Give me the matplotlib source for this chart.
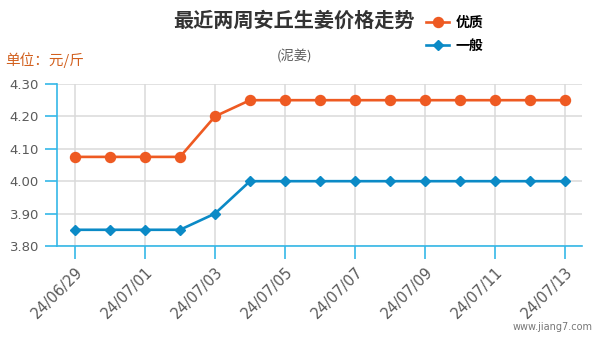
import matplotlib

matplotlib.use("Agg")
import matplotlib.pyplot as plt
from matplotlib.ticker import MultipleLocator, FormatStrFormatter

plt.rcParams["font.family"] = ["DejaVu Sans", "Noto Sans CJK SC"]

dates = ["24/06/29", "24/06/30", "24/07/01", "24/07/02", "24/07/03",
         "24/07/04", "24/07/05", "24/07/06", "24/07/07", "24/07/08",
         "24/07/09", "24/07/10", "24/07/11", "24/07/12", "24/07/13"]
premium = [4.075, 4.075, 4.075, 4.075, 4.20, 4.25, 4.25, 4.25, 4.25, 4.25,
           4.25, 4.25, 4.25, 4.25, 4.25]
regular = [3.85, 3.85, 3.85, 3.85, 3.90, 4.00, 4.00, 4.00, 4.00, 4.00,
           4.00, 4.00, 4.00, 4.00, 4.00]
series_names = ["优质", "一般"]

ORANGE = "#ee5a22"
BLUE = "#0b8ac6"
AXIS = "#35b8e8"
GRID = "#dadada"
TEXT = "#5a5a5a"
CJK = ["Noto Sans CJK SC", "DejaVu Sans"]

fig = plt.figure(figsize=(6, 3.4), dpi=100)
ax = fig.add_axes([0.095, 0.2765, 0.875, 0.4765])

x = list(range(len(dates)))
ax.plot(x, premium, color=ORANGE, lw=1.9, marker="o", ms=7.2,
        label=series_names[0], zorder=3)
ax.plot(x, regular, color=BLUE, lw=1.9, marker="D", ms=5.2,
        label=series_names[1], zorder=3)

ax.set_xlim(-0.514, len(dates) - 1 + 0.486)
ax.set_ylim(3.80, 4.30)
ax.yaxis.set_major_locator(MultipleLocator(0.10))
ax.yaxis.set_major_formatter(FormatStrFormatter("%.2f"))
ax.set_xticks(x[::2])
ax.set_xticklabels(dates[::2], rotation=45, ha="right", rotation_mode="anchor")

ax.grid(True, color=GRID, lw=1.1, zorder=0)
for side in ("top", "right"):
    ax.spines[side].set_visible(False)
for side in ("left", "bottom"):
    ax.spines[side].set_color(AXIS)
    ax.spines[side].set_linewidth(1.2)
ax.tick_params(axis="both", colors=AXIS, length=9, width=1.2, labelcolor=TEXT)
ax.tick_params(axis="y", labelsize=9.5, pad=4)
ax.tick_params(axis="x", labelsize=10.5, pad=4)

fig.text(0.49, 0.94, "最近两周安丘生姜价格走势", ha="center", va="center",
         fontsize=14.5, fontweight="bold", color="#333333", family=CJK)
fig.text(0.49, 0.835, "(泥姜)", ha="center", va="center",
         fontsize=9.5, color=TEXT, family=CJK)
fig.text(0.008, 0.823, "单位：元/斤", ha="left", va="center",
         fontsize=10.5, color="#d2601e", family=CJK)
fig.text(0.988, 0.038, "www.jiang7.com", ha="right", va="center",
         fontsize=7, color="#777777")

fig.legend(loc="upper left", bbox_to_anchor=(0.69, 0.99), frameon=False,
           handlelength=1.6, handletextpad=0.5, labelspacing=0.62,
           prop={"family": CJK, "size": 10, "weight": "bold"})

fig.savefig("out.png", dpi=100)
